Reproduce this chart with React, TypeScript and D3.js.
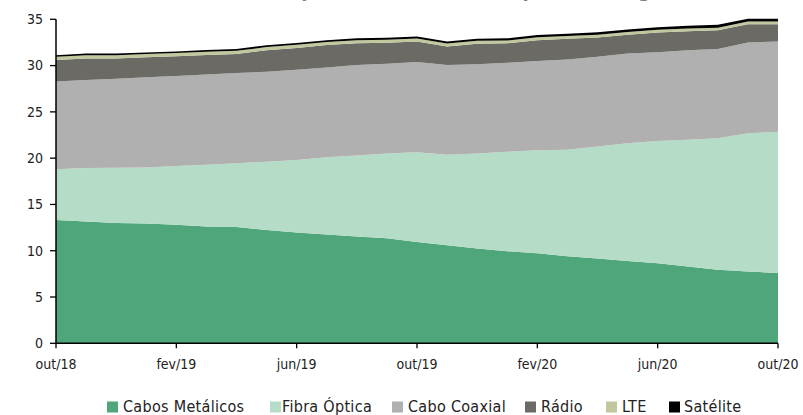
import React from "react";
import * as d3 from "d3";

const months = [
  "out/18","nov/18","dez/18","jan/19","fev/19","mar/19","abr/19","mai/19","jun/19","jul/19","ago/19","set/19",
  "out/19","nov/19","dez/19","jan/20","fev/20","mar/20","abr/20","mai/20","jun/20","jul/20","ago/20","set/20","out/20",
];
const tickMonths = ["out/18","fev/19","jun/19","out/19","fev/20","jun/20","out/20"];
const yTicks = [0, 5, 10, 15, 20, 25, 30, 35];

const cabosMetalicos = [13.33,13.15,13.0,12.95,12.8,12.62,12.55,12.25,11.96,11.75,11.55,11.35,10.95,10.6,10.25,9.95,9.73,9.4,9.15,8.9,8.65,8.3,7.95,7.75,7.6];
const fibraOptica = [5.47,5.8,5.97,6.04,6.35,6.68,6.9,7.35,7.84,8.35,8.75,9.15,9.7,9.76,10.25,10.75,11.12,11.5,12.1,12.7,13.2,13.7,14.21,14.95,15.25];
const caboCoaxial = [9.48,9.48,9.61,9.74,9.73,9.74,9.74,9.74,9.75,9.7,9.75,9.7,9.75,9.69,9.65,9.6,9.65,9.75,9.7,9.7,9.6,9.65,9.64,9.8,9.75];
const radio = [2.32,2.34,2.18,2.16,2.12,2.1,2.06,2.32,2.36,2.42,2.36,2.26,2.21,2.01,2.21,2.1,2.24,2.24,2.09,2.03,2.12,2.07,2.01,1.97,1.87];
const lte = [0.36,0.36,0.36,0.35,0.35,0.35,0.34,0.34,0.34,0.33,0.33,0.33,0.32,0.32,0.31,0.31,0.31,0.3,0.3,0.3,0.3,0.29,0.29,0.28,0.28];
const satelite = [0.17,0.17,0.18,0.18,0.18,0.19,0.19,0.2,0.2,0.2,0.21,0.21,0.22,0.22,0.23,0.24,0.25,0.26,0.26,0.27,0.28,0.29,0.3,0.3,0.3];

const seriesNames = ["Cabos Metálicos", "Fibra Óptica", "Cabo Coaxial", "Rádio", "LTE", "Satélite"];
const seriesValues = [cabosMetalicos, fibraOptica, caboCoaxial, radio, lte, satelite];
const colors = ["#4fa67a", "#b5dcc7", "#b0b0b0", "#6b6a64", "#c1c89d", "#000000"];

const W = 803, H = 415;
const left = 56, right = 778, top = 19.3, bottom = 343.3;
const FONT = "'Liberation Sans Narrow', 'DejaVu Sans Condensed', 'Open Sans', sans-serif";

export default function App() {
  const rows = months.map((m, i) => {
    const r: any = { month: m };
    seriesNames.forEach((s, k) => (r[s] = seriesValues[k][i]));
    return r;
  });
  const stacked = d3.stack<any>().keys(seriesNames)(rows);
  const x = d3.scalePoint<string>().domain(months).range([left, right]);
  const y = d3.scaleLinear().domain([0, 35]).range([bottom, top]);
  const area = d3
    .area<any>()
    .x((d) => x(d.data.month) as number)
    .y0((d) => y(d[0]))
    .y1((d) => y(d[1]));

  const legendItems = [
    { sq: 107, tx: 123 },
    { sq: 270, tx: 282 },
    { sq: 392, tx: 408 },
    { sq: 525, tx: 541 },
    { sq: 606, tx: 622 },
    { sq: 669, tx: 684 },
  ];

  return (
    <svg width={W} height={H} style={{ position: "absolute", left: 0, top: 0, display: "block" }}>
      <rect width={W} height={H} fill="#fff" />
      <text
        x={771}
        y={-3.5}
        textAnchor="end"
        fontFamily={FONT}
        fontWeight="bold"
        fontSize={20}
        fill="#7f7f7f"
      >
        Evolução dos acessos fixos por tecnologia (milhões)
      </text>
      {stacked.map((s, k) => (
        <path key={k} d={area(s) as string} fill={colors[k]} />
      ))}
      {/* y axis */}
      <line x1={left} x2={left} y1={top} y2={bottom} stroke="#000" strokeWidth={1.5} />
      {yTicks.map((t) => (
        <g key={t}>
          <line x1={left - 6} x2={left} y1={y(t)} y2={y(t)} stroke="#000" strokeWidth={1.3} />
          <text
            x={43}
            y={y(t)}
            dy="0.35em"
            textAnchor="end"
            fontFamily={FONT}
            fontSize={14}
            fill="#222"
          >
            {t}
          </text>
        </g>
      ))}
      {/* x axis */}
      <line x1={left} x2={right} y1={bottom} y2={bottom} stroke="#000" strokeWidth={1.5} />
      {tickMonths.map((m) => (
        <g key={m}>
          <line
            x1={x(m) as number}
            x2={x(m) as number}
            y1={bottom}
            y2={bottom + 5}
            stroke="#000"
            strokeWidth={1.3}
          />
          <text
            x={x(m) as number}
            y={369}
            textAnchor="middle"
            fontFamily={FONT}
            fontSize={14}
            fill="#222"
          >
            {m}
          </text>
        </g>
      ))}
      {/* legend */}
      {seriesNames.map((s, k) => (
        <g key={s}>
          <rect x={legendItems[k].sq} y={401.5} width={11} height={11} fill={colors[k]} />
          <text
            x={legendItems[k].tx}
            y={412}
            fontFamily={FONT}
            fontSize={16}
            letterSpacing={0.3}
            fill="#222"
          >
            {s}
          </text>
        </g>
      ))}
    </svg>
  );
}
